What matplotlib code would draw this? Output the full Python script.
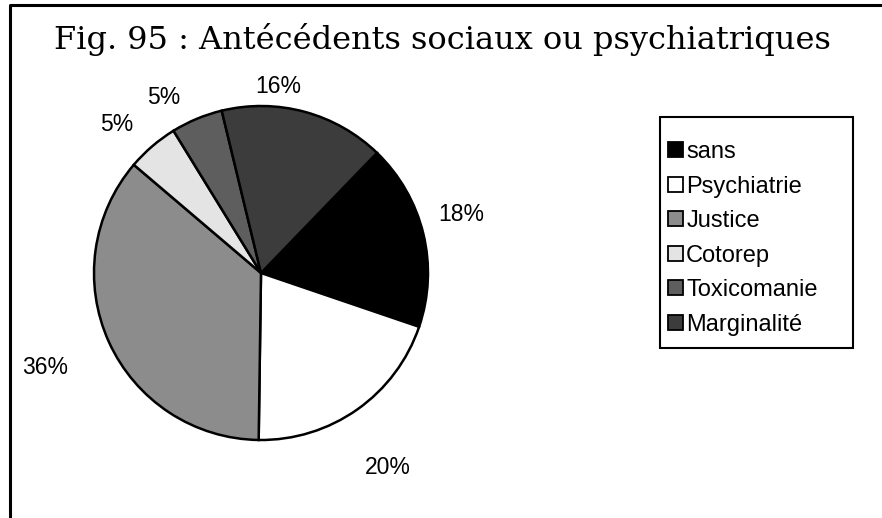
import numpy as np
import matplotlib.pyplot as plt
from matplotlib.patches import Patch, Rectangle
from matplotlib.lines import Line2D

# data
categories = ["sans", "Psychiatrie", "Justice", "Cotorep", "Toxicomanie", "Marginalité"]
values = [18, 20, 36, 5, 5, 16]
colors = ["#000000", "#ffffff", "#8c8c8c", "#e4e4e4", "#5e5e5e", "#3c3c3c"]

# label placement: radius factor and angle shift (deg, clockwise) per wedge
label_r = [1.25, 1.39, 1.41, 1.24, 1.20, 1.12]
label_shift = [-2.6, 2.2, 0.7, -3.4, -6.4, -10.0]

W, H = 882, 518
fig = plt.figure(figsize=(W / 100, H / 100), dpi=100)
fig.patch.set_facecolor("white")

# pie axes, centre at (261, 273) px, radius 167 px
cx, cy, R = 261, 273, 167
ax = fig.add_axes([(cx - R) / W, (H - cy - R) / H, 2 * R / W, 2 * R / H])
ax.axis("off")

wedges, _ = ax.pie(values, colors=colors, startangle=46, counterclock=False,
                   radius=1, wedgeprops=dict(edgecolor="black", linewidth=1.8),
                   frame=False)
ax.set_xlim(-1, 1)
ax.set_ylim(-1, 1)

for w, v, rf, sh in zip(wedges, values, label_r, label_shift):
    mid = (w.theta1 + w.theta2) / 2 - sh
    a = np.deg2rad(mid)
    ax.text(rf * np.cos(a), rf * np.sin(a), f"{v}%", ha="center", va="center",
            fontsize=16.5, family="Liberation Sans", clip_on=False)

fig.text(442 / W, 1 - 40 / H, "Fig. 95 : Antécédents sociaux ou psychiatriques",
         ha="center", va="center", fontsize=23, family="DejaVu Serif")

# legend frame drawn separately: 660..853 px wide, 117..348 px tall
fig.add_artist(Rectangle((660 / W, 1 - 348 / H), 193 / W, 231 / H,
                         transform=fig.transFigure, facecolor="white",
                         edgecolor="black", linewidth=1.5, zorder=1))

handles = [Patch(facecolor=c, edgecolor="black", linewidth=1.3) for c in colors]
leg = fig.legend(handles, categories, loc="upper left",
                 bbox_to_anchor=(668 / W, 1 - 141 / H),
                 prop=dict(family="Liberation Sans", size=17),
                 frameon=False, handlelength=0.62, handleheight=0.62,
                 handletextpad=0.15, labelspacing=0.53, borderpad=0,
                 borderaxespad=0)
leg.set_zorder(2)

# outer frame (left and top edges)
fx = 10 / W
fy = 1 - 5 / H
fig.add_artist(Line2D([fx, fx, 1], [0, fy, fy], color="black", linewidth=2.2,
                      transform=fig.transFigure))

fig.savefig("out.png", dpi=100)
